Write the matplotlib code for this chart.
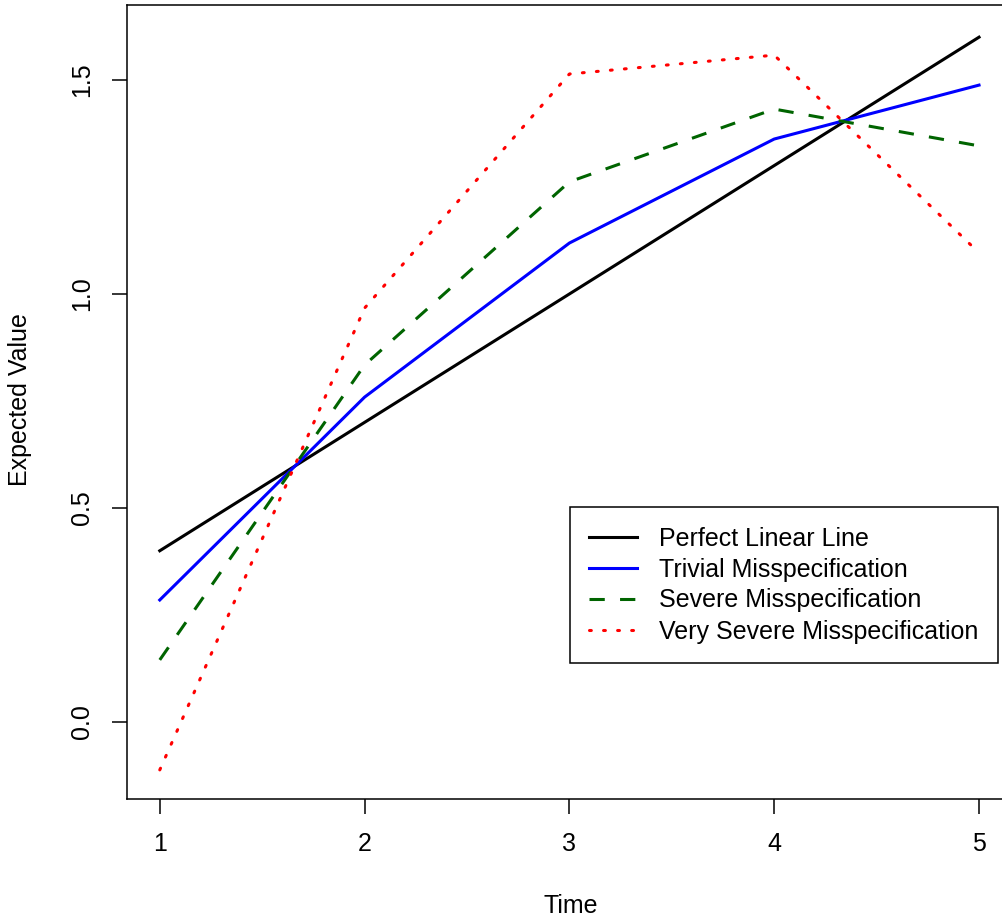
import matplotlib
matplotlib.use("Agg")
import matplotlib.pyplot as plt

plt.rcParams['font.family'] = ['Liberation Sans', 'DejaVu Sans']

# expected values at each time point
time = [1, 2, 3, 4, 5]
perfect = [0.40, 0.70, 1.00, 1.30, 1.60]
trivial = [0.285, 0.759, 1.119, 1.362, 1.488]
severe = [0.145, 0.834, 1.262, 1.432, 1.346]
very_severe = [-0.112, 0.967, 1.514, 1.558, 1.096]
yticks = [0.0, 0.5, 1.0, 1.5]

fig = plt.figure(figsize=(10.03, 9.22), dpi=100)
ax = fig.add_axes([127 / 1003, 123 / 922, 884.8 / 1003, 793.5 / 922])

ax.plot(time, perfect, color='black', lw=2.2, label='Perfect Linear Line')
ax.plot(time, trivial, color='blue', lw=2.2, label='Trivial Misspecification')
ax.plot(time, severe, color='#006400', lw=2.2, ls=(0, (5, 5)), label='Severe Misspecification')
ax.plot(time, very_severe, color='red', lw=2.2, ls=(0, (0.6, 4)), dash_capstyle='round',
        label='Very Severe Misspecification')

ax.set_xlim(0.84, 5.16)
ax.set_ylim(-0.18, 1.674)
ax.set_xticks(time)
ax.set_xticklabels([str(t) for t in time], fontsize=18)
ax.set_yticks(yticks)
ax.set_yticklabels([f"{v:.1f}" for v in yticks], fontsize=18, rotation=90, va='center')
ax.tick_params(axis='both', length=11, width=1.1, pad=13)
for s in ax.spines.values():
    s.set_linewidth(1.1)

fig.text(571 / 1003, 1 - 906 / 922, 'Time', fontsize=18, ha='center', va='center')
fig.text(20 / 1003, 1 - 400 / 922, 'Expected Value', fontsize=18, ha='center', va='center',
         rotation=90)

leg = ax.legend(loc='upper left', bbox_to_anchor=(570 / 1003, 1 - 507 / 922),
                bbox_transform=fig.transFigure, borderaxespad=0, fontsize=18,
                frameon=True, fancybox=False, edgecolor='black', framealpha=1,
                handlelength=1.9, handletextpad=0.88, labelspacing=0.28,
                borderpad=0.78)
leg.get_frame().set_linewidth(1.1)

fig.savefig('out.png', dpi=100)
